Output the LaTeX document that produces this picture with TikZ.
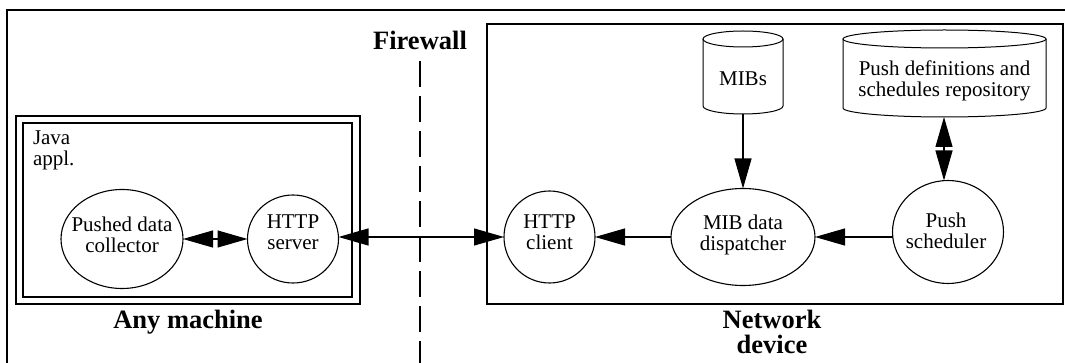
\documentclass[tikz,border=0pt]{standalone}
\usepackage{fontspec}
\setmainfont{Liberation Serif}
\usetikzlibrary{arrows.meta,shapes.geometric}
\begin{document}
\begin{tikzpicture}[x=1pt,y=-1pt,
  every node/.style={font=\fontsize{21}{21}\selectfont, inner sep=0pt, outer sep=0pt},
  proc/.style={ellipse, draw, line width=1.1pt},
  txt/.style={align=center},
  boldlbl/.style={font=\fontsize{26.5}{25}\selectfont\bfseries, align=center},
  frame/.style={line width=1.4pt},
  shapeline/.style={line width=1.0pt},
  conn/.style={line width=1.1pt},
  >={Triangle[length=30pt,width=17pt]}]
\useasboundingbox (0,0) rectangle (1065,363);

% outer frame (cropped)
\draw[frame] (7,363) -- (7,10) -- (1065,10);

% Any machine boxes
\draw[frame] (16,116) rectangle (360,304);
\draw[frame] (23,123) rectangle (352,297);
\node[anchor=north west, align=left] (java) at (33,131) {Java\\appl.};
\node[boldlbl] (anymach) at (188,322) {Any machine};

% Network device box
\draw[frame] (487,24) rectangle (1063,304);
\node[boldlbl] (netdev) at (772,331.5) {Network\\device};

% Firewall
\node[boldlbl] (fw) at (420,40.5) {Firewall};
\coordinate (fwtop) at (420,61);
\coordinate (fwbot) at (420,363);
\draw[line width=1.1pt, dash pattern=on 26pt off 9pt] (fwtop) -- (fwbot);

% process nodes
\node[proc, minimum width=122pt, minimum height=99pt] (coll) at (122,239) {};
\node[txt] (collt) at (122,234.5) {Pushed data\\collector};
\node[proc, minimum width=91pt, minimum height=88pt] (srv) at (293,239) {};
\node[txt] (srvt) at (293,232.5) {HTTP\\server};
\node[proc, minimum width=91pt, minimum height=92pt] (cli) at (549.5,237) {};
\node[txt] (clit) at (549.5,232.5) {HTTP\\client};
\node[proc, minimum width=144pt, minimum height=97pt] (disp) at (743,237) {};
\node[txt] (dispt) at (743,234.5) {MIB data\\dispatcher};
\node[proc, minimum width=111pt, minimum height=103pt] (sched) at (948,232) {};
\node[txt] (schedt) at (946,230.5) {Push\\scheduler};

% cylinders
\node[minimum width=80pt, minimum height=83pt] (mibs) at (743,72.5) {};
\draw[shapeline] (703,39) -- (703,106) arc[start angle=180, end angle=0, x radius=40, y radius=8] -- (783,39);
\draw[shapeline] (743,39) ellipse [x radius=40, y radius=8];
\node[txt] (mibst) at (743,78.5) {MIBs};

\node[minimum width=203pt, minimum height=87pt] (repo) at (944.5,73.5) {};
\draw[shapeline] (843,39) -- (843,108) arc[start angle=180, end angle=0, x radius=101.5, y radius=9] -- (1046,39);
\draw[shapeline] (944.5,39) ellipse [x radius=101.5, y radius=9];
\node[txt] (repot) at (944.5,80.7) {Push definitions and\\schedules repository};

% connectors
\draw[conn, <->] (coll) -- (srv);
\draw[conn, <->] (srv.east |- cli.west) -- (cli.west);
\draw[conn, ->] (disp) -- (cli);
\draw[conn, ->] (sched.west |- disp.east) -- (disp.east);
\draw[conn, ->] (mibs.south) -- (disp.north);
\path (repo.south -| sched.north) ++(-4,0) coordinate (repob);
\draw[conn, <->] (repob) -- (repob |- sched.north);
\end{tikzpicture}
\end{document}
